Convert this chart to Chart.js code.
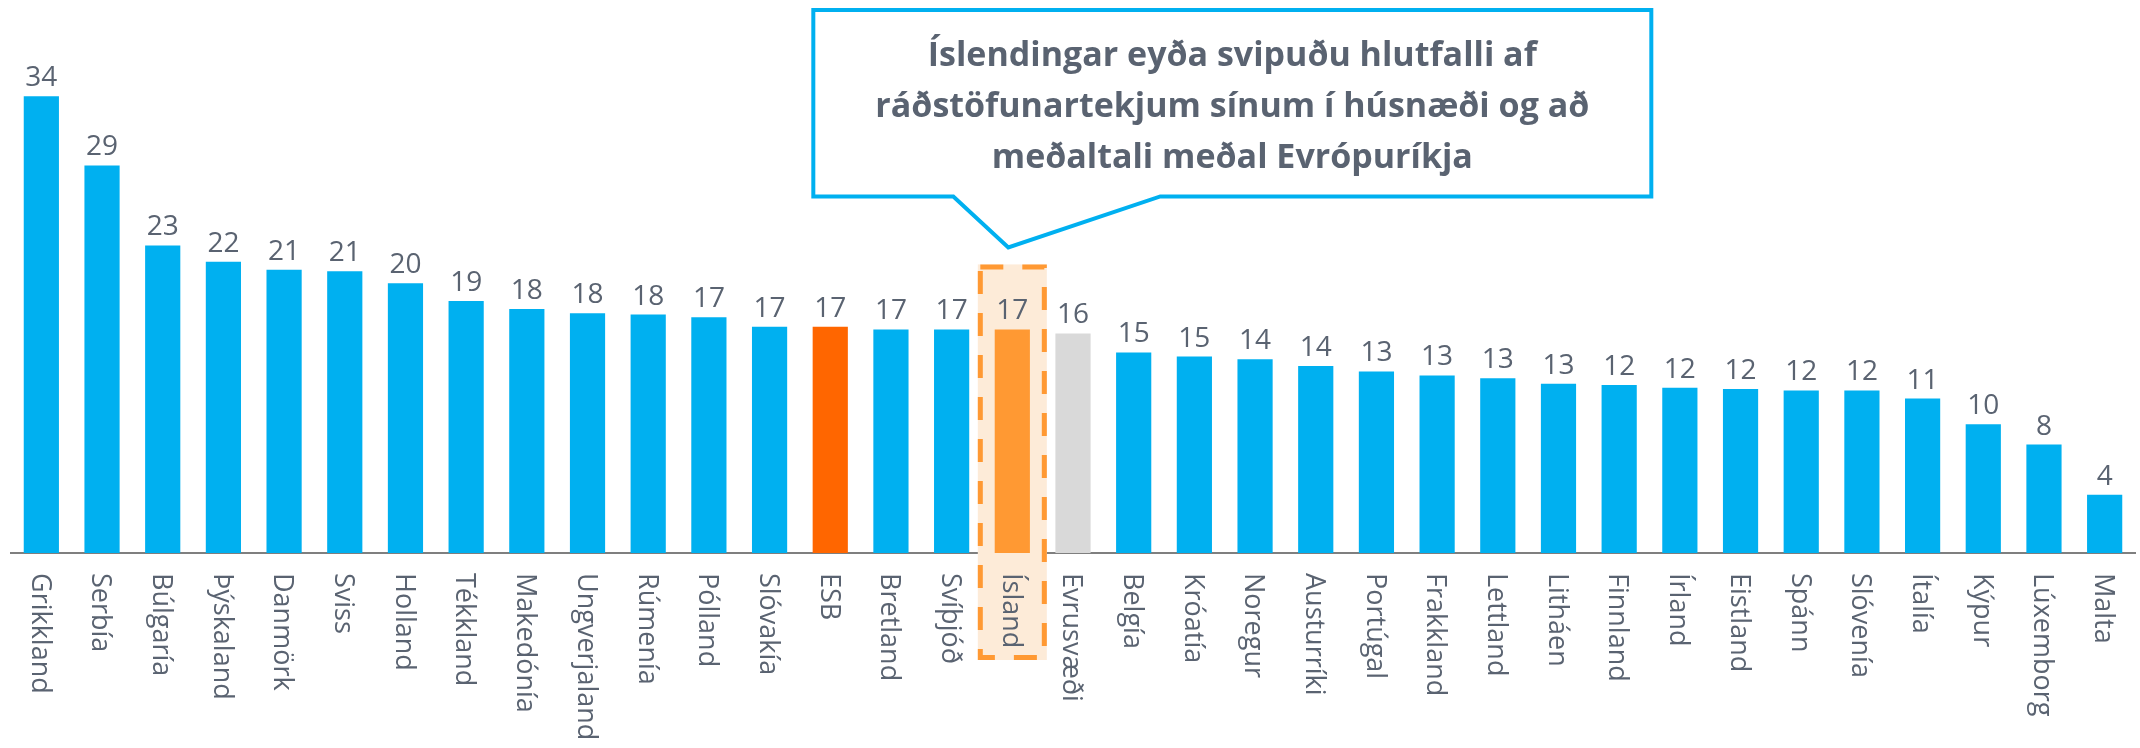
<!DOCTYPE html>
<html lang="is">
<head>
<meta charset="utf-8">
<title>Húsnæðiskostnaður í Evrópu</title>
<script src="https://cdn.jsdelivr.net/npm/chart.js@4.4.0/dist/chart.umd.min.js"></script>
<style>
  html, body { margin: 0; padding: 0; background: #fff; }
  #wrap { width: 2140px; height: 748px; }
</style>
</head>
<body>
<div id="wrap"><canvas id="chart" width="2140" height="748"></canvas></div>
<script>
const countries = [
  'Grikkland', 'Serbía', 'Búlgaría', 'Þýskaland', 'Danmörk', 'Sviss', 'Holland',
  'Tékkland', 'Makedónía', 'Ungverjaland', 'Rúmenía', 'Pólland', 'Slóvakía', 'ESB',
  'Bretland', 'Svíþjóð', 'Ísland', 'Evrusvæði', 'Belgía', 'Króatía', 'Noregur',
  'Austurríki', 'Portúgal', 'Frakkland', 'Lettland', 'Litháen', 'Finnland', 'Írland',
  'Eistland', 'Spánn', 'Slóvenía', 'Ítalía', 'Kýpur', 'Lúxemborg', 'Malta'
];

// share of disposable income spent on housing (%)
const values = [
  33.7, 28.6, 22.7, 21.5, 20.9, 20.8, 19.9,
  18.6, 18.0, 17.7, 17.6, 17.4, 16.7, 16.7,
  16.5, 16.5, 16.5, 16.2, 14.8, 14.5, 14.3,
  13.8, 13.4, 13.1, 12.9, 12.5, 12.4, 12.2,
  12.1, 12.0, 12.0, 11.4, 9.5, 8.0, 4.3
];

const calloutLines = [
  'Íslendingar eyða svipuðu hlutfalli af',
  'ráðstöfunartekjum sínum í húsnæði og að',
  'meðaltali meðal Evrópuríkja'
];

const highlighted = 'Ísland';

const TEXT = '#5A6371';
const BLUE = '#00B0F0';
const specialColors = { 'ESB': '#FF6600', 'Ísland': '#FF9933', 'Evrusvæði': '#D9D9D9' };
const FONT = '"Open Sans", "Liberation Sans", sans-serif';

function highlightRect(chart) {
  const bar = chart.getDatasetMeta(0).data[countries.indexOf(highlighted)];
  return {
    x: bar.x,
    left: bar.x - 34.5,
    right: bar.x + 34.5,
    top: bar.y - 65,
    bottom: chart.chartArea.bottom + 107
  };
}

const highlightBox = {
  id: 'highlightBox',
  beforeDatasetsDraw(chart) {
    const { ctx } = chart;
    const r = highlightRect(chart);
    ctx.save();
    ctx.fillStyle = '#FDEBD8';
    ctx.fillRect(r.left, r.top, r.right - r.left, r.bottom - r.top);
    ctx.restore();
  },
  afterDraw(chart) {
    const { ctx } = chart;
    const r = highlightRect(chart);
    ctx.save();
    ctx.strokeStyle = '#FF9933';
    ctx.lineWidth = 5;
    ctx.setLineDash([23, 19]);
    ctx.strokeRect(r.left + 2.5, r.top + 2.5, r.right - r.left - 5, r.bottom - r.top - 5);
    ctx.restore();
  }
};

const barLabels = {
  id: 'barLabels',
  afterDatasetsDraw(chart) {
    const { ctx, chartArea } = chart;
    const meta = chart.getDatasetMeta(0);
    ctx.save();
    ctx.fillStyle = TEXT;

    // value labels
    ctx.font = '28px ' + FONT;
    ctx.textAlign = 'center';
    ctx.textBaseline = 'alphabetic';
    meta.data.forEach((bar, i) => {
      ctx.fillText(String(Math.round(values[i])), bar.x, bar.y - 10);
    });

    // category labels, reading top to bottom
    ctx.font = '27px ' + FONT;
    ctx.textAlign = 'left';
    ctx.textBaseline = 'middle';
    const xScale = chart.scales.x;
    countries.forEach((name, i) => {
      ctx.save();
      ctx.translate(xScale.getPixelForValue(i) - 2, chartArea.bottom + 20);
      ctx.rotate(Math.PI / 2);
      ctx.fillText(name, 0, 0);
      ctx.restore();
    });
    ctx.restore();
  }
};

const callout = {
  id: 'callout',
  afterDraw(chart) {
    const { ctx } = chart;
    const r = highlightRect(chart);
    const tipX = r.x - 4, tipY = r.top - 17;
    const left = tipX - 195, right = tipX + 643;
    const top = 10, bottom = tipY - 51;

    ctx.save();
    ctx.beginPath();
    ctx.moveTo(left, top);
    ctx.lineTo(right, top);
    ctx.lineTo(right, bottom);
    ctx.lineTo(tipX + 152, bottom);
    ctx.lineTo(tipX, tipY);
    ctx.lineTo(tipX - 55, bottom);
    ctx.lineTo(left, bottom);
    ctx.closePath();
    ctx.fillStyle = '#fff';
    ctx.fill();
    ctx.strokeStyle = BLUE;
    ctx.lineWidth = 4;
    ctx.lineJoin = 'miter';
    ctx.stroke();

    ctx.fillStyle = TEXT;
    ctx.font = 'bold 34px ' + FONT;
    ctx.textAlign = 'center';
    ctx.textBaseline = 'alphabetic';
    const cx = (left + right) / 2;
    calloutLines.forEach((line, i) => {
      ctx.fillText(line, cx, 66 + i * 51);
    });
    ctx.restore();
  }
};

new Chart(document.getElementById('chart'), {
  type: 'bar',
  data: {
    labels: countries,
    datasets: [{
      data: values,
      backgroundColor: countries.map(c => specialColors[c] || BLUE),
      barPercentage: 0.58,
      categoryPercentage: 1.0
    }]
  },
  options: {
    responsive: false,
    animation: false,
    layout: { padding: { left: 11, right: 5, top: 11, bottom: 195 } },
    plugins: {
      legend: { display: false },
      tooltip: { enabled: false }
    },
    scales: {
      x: {
        grid: { display: false, drawTicks: false },
        ticks: { display: false },
        border: { display: true, color: '#7F7F7F', width: 2 }
      },
      y: {
        display: false,
        min: 0,
        max: 40
      }
    }
  },
  plugins: [highlightBox, barLabels, callout]
});
</script>
</body>
</html>
